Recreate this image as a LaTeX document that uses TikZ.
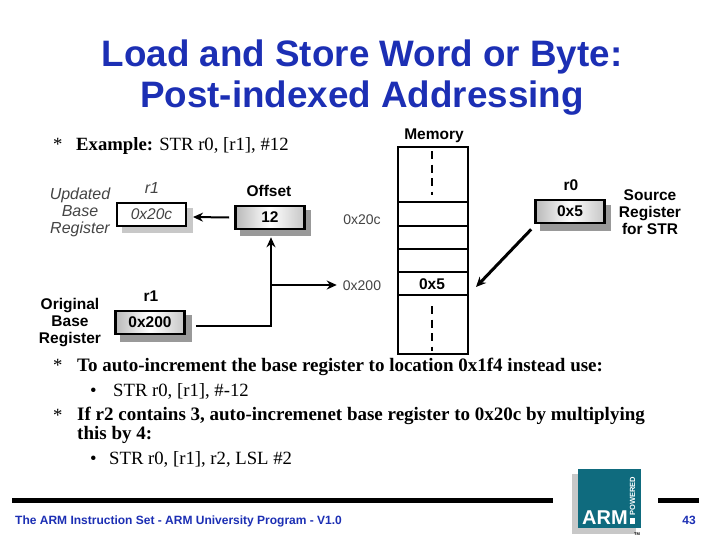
\documentclass[tikz,border=0pt]{standalone}
\usepackage{fontspec}
\setmainfont{Liberation Serif}
\setsansfont{Liberation Sans}
\definecolor{titleblue}{HTML}{1C2FB4}
\definecolor{armteal}{HTML}{0F6B7E}
\definecolor{shadowgray}{HTML}{999999}
\definecolor{lightshadow}{HTML}{C8C8C8}
\definecolor{fadetext}{HTML}{444444}
\usetikzlibrary{arrows.meta}
\tikzset{
  x=1pt,y=-1pt,
  reg/.style={draw=black,line width=2.6pt,minimum width=69pt,minimum height=23pt,inner sep=0pt,left color=gray!55,right color=gray!45,middle color=white,font=\sffamily\bfseries\fontsize{15.5}{15.5}\selectfont},
  regfade/.style={draw=black,line width=2pt,minimum width=69pt,minimum height=23pt,inner sep=0pt,fill=white,text=fadetext,font=\sffamily\itshape\fontsize{15.5}{15.5}\selectfont},
  lab/.style={font=\sffamily\bfseries\fontsize{15.5}{17}\selectfont,align=center,inner sep=0pt},
  labfade/.style={font=\sffamily\itshape\fontsize{16}{17}\selectfont,align=center,inner sep=0pt,text=fadetext},
  addr/.style={font=\sffamily\fontsize{14}{14}\selectfont,inner sep=0pt,text=fadetext},
  memline/.style={line width=2pt},
  gap/.style={line width=2.6pt,dash pattern=on 8pt off 5.5pt},
  conn/.style={line width=2pt,-{Stealth[length=10pt,width=9pt]}},
  body/.style={anchor=base west,font=\fontsize{18.7}{18.7}\selectfont,inner sep=0pt},
  bodybold/.style={anchor=base west,font=\bfseries\fontsize{19}{19}\selectfont,inner sep=0pt},
  titletext/.style={anchor=base,text=titleblue,font=\sffamily\bfseries\fontsize{36.8}{36.8}\selectfont,inner sep=0pt},
  rule/.style={line width=4.5pt}
}
\begin{document}
\begin{tikzpicture}
\useasboundingbox (0,0) rectangle (721,541);
\fill[white] (0,0) rectangle (721,541);
% title
\node[titletext] (t1) at (362,66) {Load and Store Word or Byte:};
\node[titletext] (t2) at (362,107) {Post-indexed Addressing};
% example
\node[body] (b0) at (53,150) {*};
\node[body] (ex) at (76,150) {\textbf{Example:} STR r0, [r1], \#12};
% shadows
\fill[lightshadow] (122,208) rectangle (193,233);
\fill[shadowgray] (240,210) rectangle (311,236);
\fill[shadowgray] (120,315) rectangle (192,342);
\fill[shadowgray] (540,205) rectangle (611,231);
% registers
\node[regfade] (upd) at (151.5,214.5) {0x20c};
\node[reg] (off) at (270,217.5) {12};
\node[reg] (orig) at (150,322.5) {0x200};
\node[reg] (src) at (570,211.5) {0x5};
% labels
\node[labfade] (updl) at (80,212) {Updated\\Base\\Register};
\node[labfade] (r1a) at (152,188) {r1};
\node[lab] (offl) at (269,191) {Offset};
\node[lab] (r1b) at (151,296) {r1};
\node[lab] (origl) at (70,323) {Original\\Base\\Register};
\node[lab] (memlab) at (434,136) {Memory};
\node[lab] (r0l) at (571,185) {r0};
\node[lab] (srcl) at (650,212) {Source\\Register\\for STR};
\node[addr] (a1) at (362,220) {0x20c};
\node[addr] (a2) at (362,286) {0x200};
% memory
\node[draw=black,line width=2pt,minimum width=70pt,minimum height=207pt,inner sep=0pt,fill=white] (mem) at (433,250.5) {};
\coordinate (m1) at (mem.west |- 0,202);
\coordinate (m2) at (mem.west |- 0,226);
\coordinate (m3) at (mem.west |- 0,249);
\coordinate (m4) at (mem.west |- 0,272);
\coordinate (m5) at (mem.west |- 0,295);
\foreach \n/\y in {m1/202,m2/226,m3/249,m4/272,m5/295}
  \draw[memline] (\n) -- (mem.east |- 0,\y);
\node[lab] (val) at (432,284) {0x5};
\draw[gap] (432,151) -- (432,195);
\draw[gap] (432,306) -- (432,351);
% connectors
\coordinate (j) at (271,285);
\coordinate (ja) at (271,326);
\draw[line width=2pt] ([xshift=10pt,yshift=-3.5pt]orig.east) -- (ja) -- (j);
\draw[conn] (j) -- ([xshift=1pt,yshift=-7pt]off.south);
\draw[conn] (j) -- ([xshift=-6pt]j -| a2.west);
\draw[conn] ([xshift=-5pt]off.west) -- ([xshift=6pt,yshift=-2.5pt]upd.east);
\draw[conn,line width=3pt] ([xshift=-3pt,yshift=-5pt]src.south west) -- ([xshift=7pt,yshift=-3pt]val.east -| mem.east);
% body text
\node[body] (b1) at (53,371) {*};
\node[bodybold] (l1) at (77,371) {To auto-increment the base register to location 0x1f4 instead use:};
\node[body] (b2) at (90,396) {\textbullet};
\node[body] (l2) at (113,396) {STR r0, [r1], \#-12};
\node[body] (b3) at (53,421) {*};
\node[bodybold] (l3) at (77,420.5) {If r2 contains 3, auto-incremenet base register to 0x20c by multiplying};
\node[bodybold] (l4) at (77,439) {this by 4:};
\node[body] (b4) at (90,464) {\textbullet};
\node[body] (l5) at (109,464) {STR r0, [r1], r2, LSL \#2};
% footer
\coordinate (fa) at (12,500.5);
\coordinate (fb) at (553,500.5);
\coordinate (fc) at (658,500.5);
\coordinate (fd) at (699,500.5);
\draw[rule] (fa) -- (fb);
\draw[rule] (fc) -- (fd);
\node[anchor=base west,inner sep=0pt,text=titleblue,font=\sffamily\bfseries\fontsize{12}{12}\selectfont] (foot) at (15,524) {The ARM Instruction Set - ARM University Program - V1.0};
\node[anchor=base,inner sep=0pt,text=titleblue,font=\sffamily\bfseries\fontsize{12}{12}\selectfont] (page) at (689,524) {43};
% logo
\fill[lightshadow] (572,474) rectangle (636,534);
\fill[armteal] (578,469) rectangle (641,528);
\node[anchor=base west,inner sep=0pt,text=white,font=\sffamily\bfseries\fontsize{20}{20}\selectfont] (arm) at (582,524) {ARM};
\fill[white] (630,518) rectangle (635,524);
\node[anchor=base west,rotate=90,inner sep=0pt,text=white,font=\sffamily\bfseries\fontsize{7.5}{7.5}\selectfont] (pow) at (635,516) {POWERED};
\node[anchor=base west,inner sep=0pt,font=\sffamily\bfseries\fontsize{4}{4}\selectfont] (tm) at (634,535) {TM};
\end{tikzpicture}
\end{document}
